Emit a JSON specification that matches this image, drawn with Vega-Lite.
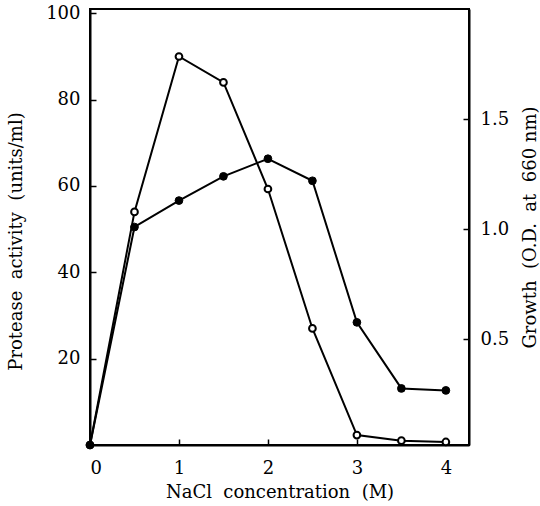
{
  "$schema": "https://vega.github.io/schema/vega-lite/v6.json",
  "width": 379,
  "height": 436,
  "autosize": "none",
  "padding": {"left": 90, "top": 9, "right": 71, "bottom": 61},
  "background": "white",
  "config": {
    "view": {"stroke": "black", "strokeWidth": 2},
    "axis": {
      "domainColor": "black",
      "domainWidth": 2,
      "tickColor": "black",
      "tickWidth": 1.5,
      "tickSize": -6,
      "grid": false,
      "labelFont": "DejaVu Serif",
      "labelFontSize": 18,
      "labelColor": "black",
      "titleFont": "DejaVu Serif",
      "titleFontSize": 18,
      "titleFontWeight": "normal",
      "titleColor": "black"
    }
  },
  "data": {
    "values": [
      {"x": 0, "protease": 0, "growth": 0.02},
      {"x": 0.5, "protease": 54, "growth": 1.01},
      {"x": 1, "protease": 90, "growth": 1.13},
      {"x": 1.5, "protease": 84, "growth": 1.24},
      {"x": 2, "protease": 59.3, "growth": 1.32},
      {"x": 2.5, "protease": 27, "growth": 1.22},
      {"x": 3, "protease": 2.3, "growth": 0.577},
      {"x": 3.5, "protease": 1, "growth": 0.277},
      {"x": 4, "protease": 0.7, "growth": 0.268}
    ]
  },
  "encoding": {
    "x": {
      "field": "x",
      "type": "quantitative",
      "scale": {"domain": [0, 4.26], "nice": false, "zero": false},
      "axis": {"values": [0, 1, 2, 3, 4], "title": "NaCl\u00a0\u00a0concentration\u00a0\u00a0(M)", "labelPadding": 20, "titlePadding": 6}
    }
  },
  "layer": [
    {
      "encoding": {
        "y": {
          "field": "protease",
          "type": "quantitative",
          "scale": {"domain": [0, 101], "nice": false},
          "axis": {"orient": "left", "values": [20, 40, 60, 80, 100], "title": "Protease\u00a0\u00a0activity\u00a0\u00a0(units/ml)", "labelPadding": 16, "titlePadding": 20, "titleY": 232}
        }
      },
      "layer": [
        {"mark": {"type": "line", "color": "black", "strokeWidth": 2}},
        {"mark": {"type": "point", "shape": "circle", "filled": true, "fill": "white", "stroke": "black", "strokeWidth": 2, "size": 45, "opacity": 1}}
      ]
    },
    {
      "encoding": {
        "y": {
          "field": "growth",
          "type": "quantitative",
          "scale": {"domain": [0.02, 2.0], "nice": false, "zero": false},
          "axis": {"orient": "right", "values": [0.5, 1.0, 1.5], "format": ".1f", "title": "Growth\u00a0\u00a0(O.D.\u00a0\u00a0at\u00a0\u00a0660\u00a0nm)", "titleAngle": 270, "labelPadding": 17, "titlePadding": 31}
        }
      },
      "layer": [
        {"mark": {"type": "line", "color": "black", "strokeWidth": 2}},
        {"mark": {"type": "point", "shape": "circle", "filled": true, "fill": "black", "stroke": "black", "strokeWidth": 1, "size": 60, "opacity": 1}}
      ]
    }
  ],
  "resolve": {"scale": {"y": "independent"}}
}
